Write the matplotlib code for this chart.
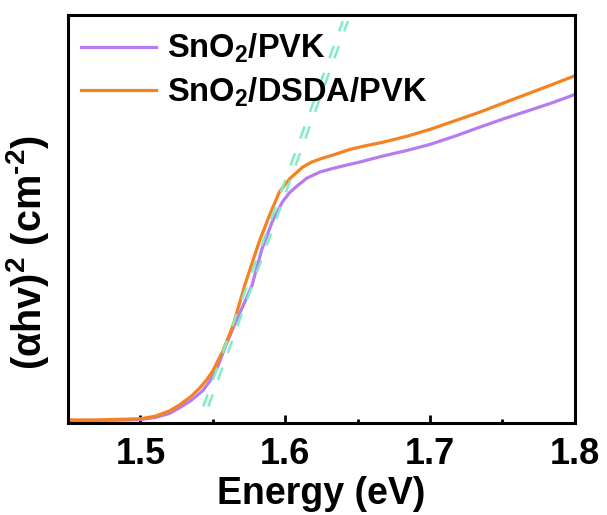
import numpy as np
import matplotlib.pyplot as plt
from matplotlib.ticker import MultipleLocator

plt.rcParams['font.family'] = ['Liberation Sans', 'DejaVu Sans']
plt.rcParams['font.weight'] = 'bold'
plt.rcParams['mathtext.fontset'] = 'custom'
plt.rcParams['mathtext.rm'] = 'Liberation Sans:bold'
plt.rcParams['mathtext.it'] = 'Liberation Sans:bold'
plt.rcParams['mathtext.bf'] = 'Liberation Sans:bold'
plt.rcParams['mathtext.default'] = 'rm'

# (E in eV, normalised (alpha h nu)^2)
e_pvk = [1.45, 1.47, 1.49, 1.50, 1.51, 1.52, 1.527, 1.535, 1.543, 1.548, 1.553, 1.559,
         1.566, 1.572, 1.577, 1.584, 1.591, 1.598, 1.603, 1.608, 1.615, 1.624, 1.632,
         1.640, 1.652, 1.667, 1.684, 1.700, 1.717, 1.734, 1.750, 1.767, 1.784, 1.800]
v_pvk = [0.001, 0.001, 0.002, 0.003, 0.008, 0.018, 0.032, 0.050, 0.074, 0.098, 0.130, 0.186,
         0.245, 0.292, 0.333, 0.424, 0.490, 0.539, 0.562, 0.578, 0.598, 0.613, 0.621,
         0.628, 0.638, 0.652, 0.666, 0.681, 0.701, 0.723, 0.743, 0.763, 0.783, 0.804]

e_dsda = [1.45, 1.47, 1.49, 1.50, 1.51, 1.52, 1.527, 1.535, 1.541, 1.546, 1.550, 1.557,
          1.564, 1.572, 1.582, 1.589, 1.596, 1.603, 1.612, 1.618, 1.624, 1.634, 1.645,
          1.656, 1.667, 1.684, 1.700, 1.717, 1.734, 1.750, 1.767, 1.784, 1.800]
v_dsda = [0.002, 0.002, 0.004, 0.005, 0.011, 0.024, 0.039, 0.060, 0.081, 0.102, 0.123, 0.172,
          0.235, 0.333, 0.441, 0.505, 0.564, 0.596, 0.625, 0.637, 0.645, 0.656, 0.669,
          0.678, 0.686, 0.701, 0.718, 0.739, 0.760, 0.782, 0.805, 0.828, 0.850]

# linear fits of the absorption edge
fit_e_pvk = [1.5469, 1.6433]
fit_e_dsda = [1.5434, 1.6398]
fit_v = [0.035, 0.985]

fig = plt.figure(figsize=(6.07, 5.15), dpi=100)
ax = fig.add_axes([0.112, 0.179, 0.835, 0.792])

ax.plot(e_pvk, v_pvk, color='#b47cf0', lw=2.3, label='SnO$_2$/PVK', zorder=2)
ax.plot(e_dsda, v_dsda, color='#f5821f', lw=2.3, label='SnO$_2$/DSDA/PVK', zorder=2)
ax.plot(fit_e_dsda, fit_v, color='#82ebc6', lw=1.8, ls=(0, (5.2, 6.2)), zorder=3)
ax.plot(fit_e_pvk, fit_v, color='#82ebc6', lw=1.8, ls=(0, (5.2, 6.2)), zorder=3)

ax.set_xlim(1.45, 1.80)
ax.set_ylim(-0.005, 1.0)
ax.xaxis.set_major_locator(MultipleLocator(0.1))
ax.xaxis.set_minor_locator(MultipleLocator(0.05))
ax.tick_params(axis='x', which='major', direction='in', length=6, width=2, labelsize=26, pad=10)
ax.tick_params(axis='x', which='minor', direction='in', length=3, width=2)
ax.set_yticks([])
for s in ax.spines.values():
    s.set_linewidth(2.2)

ax.set_xlabel('Energy (eV)', fontsize=27, fontweight='bold', labelpad=3)
ax.set_ylabel('(αhv)$^2$ (cm$^{\\text{-2}}$)', fontsize=28.5, fontweight='bold')
ax.yaxis.set_label_coords(-0.034, 0.417)

ax.legend(loc='upper left', frameon=False, fontsize=23.5, handlelength=2.3,
          handletextpad=0.35, borderaxespad=0.2, labelspacing=0.3,
          bbox_to_anchor=(-0.013, 1.006))

fig.savefig('out.png', dpi=100)
